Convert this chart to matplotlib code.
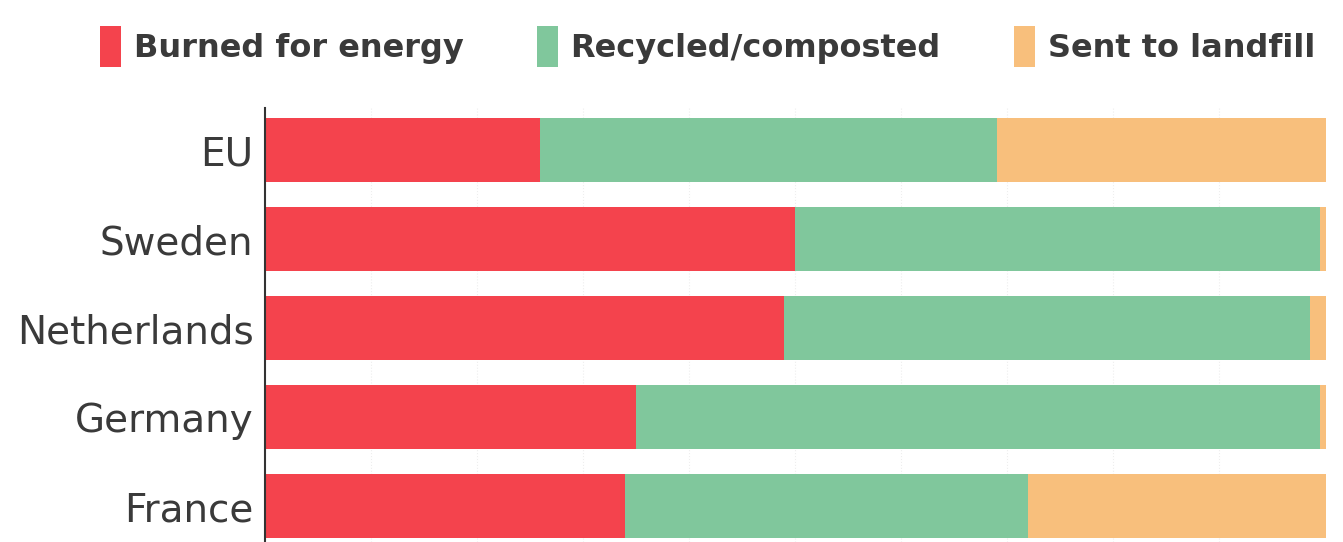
import numpy as np
import matplotlib.pyplot as plt
from matplotlib.patches import Patch

countries = ['EU', 'Sweden', 'Netherlands', 'Germany', 'France']
burned = [26, 50, 49, 35, 34]
recycled = [43, 49.5, 49.5, 64.5, 38]
landfill = [31, 0.5, 1.5, 0.5, 28]

series = ['Burned for energy', 'Recycled/composted', 'Sent to landfill']
colors = ['#f4434d', '#80c79c', '#f8bf7c']
textcol = '#3a3a3a'

fig = plt.figure(figsize=(13.43, 5.42), dpi=100)
ax = fig.add_axes([0.197, 0.0, 0.79, 0.80])

y = np.arange(len(countries))
left = np.zeros(len(countries))
for vals, col in zip([burned, recycled, landfill], colors):
    ax.barh(y, vals, left=left, height=0.72, color=col, zorder=2)
    left += np.array(vals)

ax.set_xlim(0, 100)
ax.set_ylim(4.4, -0.47)
ax.set_xticks(np.arange(10, 100, 10))
ax.xaxis.grid(True, color='#eeeeee', linewidth=0.8, linestyle=':', zorder=0)
ax.tick_params(axis='x', length=0, labelbottom=False)
ax.set_yticks(y)
ax.set_yticklabels(countries, fontsize=28, color=textcol)
ax.tick_params(axis='y', length=0, pad=8)
for s in ['top', 'right', 'bottom']:
    ax.spines[s].set_visible(False)
ax.spines['left'].set_color('#333333')
ax.spines['left'].set_linewidth(1.5)

handles = [Patch(facecolor=c, edgecolor='none') for c in colors]
leg = fig.legend(handles, series, loc='upper center', bbox_to_anchor=(0.527, 1.005),
                 ncol=3, frameon=False, handlelength=0.65, handleheight=1.6,
                 handletextpad=0.4, columnspacing=2.3,
                 prop={'size': 23, 'weight': 'bold'})
for t in leg.get_texts():
    t.set_color(textcol)

fig.savefig('out.png', dpi=100, facecolor='white')
